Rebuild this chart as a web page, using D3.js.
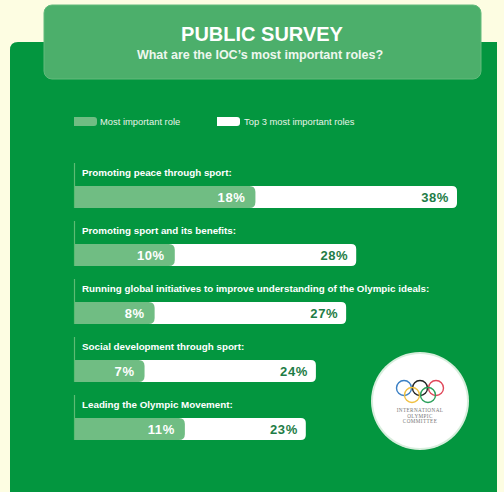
<!DOCTYPE html>
<html>
<head>
<meta charset="utf-8">
<script src="https://cdn.jsdelivr.net/npm/d3@7"></script>
<style>
  html, body { margin: 0; padding: 0; background: #fdfde2; }
  svg { display: block; font-family: "Liberation Sans", Arial, sans-serif; }
</style>
</head>
<body>
<div id="chart"></div>
<script>
// survey data
var roles = [
  "Promoting peace through sport:",
  "Promoting sport and its benefits:",
  "Running global initiatives to improve understanding of the Olympic ideals:",
  "Social development through sport:",
  "Leading the Olympic Movement:"
];
var mostImportant = [18, 10, 8, 7, 11];
var top3 = [38, 28, 27, 24, 23];
var legendLabels = ["Most important role", "Top 3 most important roles"];

var svgWidth = 504, svgHeight = 492;

var colors = {
  page: "#fdfde2",
  panel: "#03963f",
  titleBox: "#4caf6b",
  light: "#70bd83",
  line: "#5dbb73",
  white: "#ffffff",
  darkText: "#1e7c46"
};

var svg = d3.select("#chart").append("svg")
  .attr("width", svgWidth)
  .attr("height", svgHeight);

svg.append("rect").attr("width", svgWidth).attr("height", svgHeight).attr("fill", colors.page);

// green panel
svg.append("path")
  .attr("d", "M10,492 L10,50 Q10,42 18,42 L497,42 L497,492 Z")
  .attr("fill", colors.panel);

// title box
svg.append("rect")
  .attr("x", 44).attr("y", 5)
  .attr("width", 437).attr("height", 74)
  .attr("rx", 8)
  .attr("fill", colors.titleBox)
  .attr("stroke", "#62bb7c").attr("stroke-width", 1);

svg.append("text")
  .attr("x", 262).attr("y", 41)
  .attr("text-anchor", "middle")
  .attr("font-size", 20).attr("font-weight", "bold")
  .attr("fill", "#ffffff")
  .text("PUBLIC SURVEY");

svg.append("text")
  .attr("x", 260).attr("y", 59)
  .attr("text-anchor", "middle")
  .attr("font-size", 12.5).attr("font-weight", "bold")
  .attr("fill", "#eef7ee")
  .text("What are the IOC\u2019s most important roles?");

// scales
var x0 = 74;
var xScale = d3.scaleLinear().domain([0, 38]).range([x0, 457]);
var yScale = d3.scalePoint().domain(d3.range(roles.length)).range([186, 418]);
var barH = 22;

// bar with rounded right end
function barPath(x1, x2, y, h, r) {
  return "M" + x1 + "," + y +
    " L" + (x2 - r) + "," + y +
    " Q" + x2 + "," + y + " " + x2 + "," + (y + r) +
    " L" + x2 + "," + (y + h - r) +
    " Q" + x2 + "," + (y + h) + " " + (x2 - r) + "," + (y + h) +
    " L" + x1 + "," + (y + h) + " Z";
}

// legend
var legend = svg.append("g");
[[74, colors.light, 100], [217, colors.white, 244]].forEach(function(l, i) {
  legend.append("path")
    .attr("d", barPath(l[0], l[0] + 23, 117, 9, 3))
    .attr("fill", l[1]);
  legend.append("text")
    .attr("x", l[2]).attr("y", 125)
    .attr("font-size", 9.4)
    .attr("fill", "#e8f4e8")
    .text(legendLabels[i]);
});

// groups
var groups = svg.selectAll(".role")
  .data(roles)
  .enter()
  .append("g")
  .attr("class", "role");

groups.append("line")
  .attr("x1", x0 + 0.5).attr("x2", x0 + 0.5)
  .attr("y1", (d, i) => yScale(i) - 23)
  .attr("y2", (d, i) => yScale(i) + barH)
  .attr("stroke", colors.line).attr("stroke-width", 1.2);

groups.append("text")
  .attr("x", x0 + 8)
  .attr("y", (d, i) => yScale(i) - 10)
  .attr("font-size", 9.8).attr("font-weight", "bold")
  .attr("fill", "#ffffff")
  .text(d => d);

groups.append("path")
  .attr("d", (d, i) => barPath(x0 + 1, xScale(top3[i]), yScale(i), barH, 5))
  .attr("fill", colors.white);

groups.append("path")
  .attr("d", (d, i) => barPath(x0 + 1, xScale(mostImportant[i]), yScale(i), barH, 6))
  .attr("fill", colors.light);

groups.append("text")
  .attr("x", (d, i) => xScale(mostImportant[i]) - 10)
  .attr("y", (d, i) => yScale(i) + 16)
  .attr("text-anchor", "end")
  .attr("font-size", 13).attr("font-weight", "bold")
  .attr("letter-spacing", 0.6)
  .attr("fill", "#ffffff")
  .text((d, i) => mostImportant[i] + "%");

groups.append("text")
  .attr("x", (d, i) => xScale(top3[i]) - 8)
  .attr("y", (d, i) => yScale(i) + 16)
  .attr("text-anchor", "end")
  .attr("font-size", 13).attr("font-weight", "bold")
  .attr("letter-spacing", 0.6)
  .attr("fill", colors.darkText)
  .text((d, i) => top3[i] + "%");

// IOC logo
var logo = svg.append("g").attr("transform", "translate(420,401)");
logo.append("circle").attr("r", 49).attr("fill", "#d8eedd");
logo.append("circle").attr("r", 47).attr("fill", "#ffffff");
var rings = [
  [-16, -13, "#3a7fc4"], [0, -13, "#222222"], [16, -13, "#e0485a"],
  [-8, -6, "#f0c040"], [8, -6, "#2aa05a"]
];
rings.forEach(function(r) {
  logo.append("circle")
    .attr("cx", r[0]).attr("cy", r[1]).attr("r", 7.5)
    .attr("fill", "none").attr("stroke", r[2]).attr("stroke-width", 1.4);
});
["INTERNATIONAL", "OLYMPIC", "COMMITTEE"].forEach(function(t, i) {
  logo.append("text")
    .attr("y", 11 + i * 5.5)
    .attr("text-anchor", "middle")
    .attr("font-family", "Liberation Serif, serif")
    .attr("font-size", 5.2)
    .attr("letter-spacing", 0.4)
    .attr("fill", "#777777")
    .text(t);
});
</script>
</body>
</html>
